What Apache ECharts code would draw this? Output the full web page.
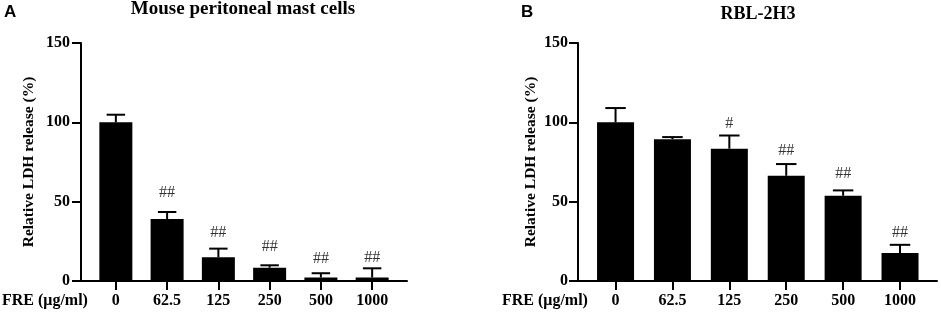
<!DOCTYPE html>
<html lang="en">

<head>
  <meta charset="UTF-8">
  <title>LDH release</title>
  <script src="https://cdn.jsdelivr.net/npm/echarts@6/dist/echarts.min.js"></script>
</head>

<body style="margin:0">
  <div id="main" style="width:941px;height:312px"></div>
  <script>
    // FRE concentrations (ug/ml)
    var doses = ['0', '62.5', '125', '250', '500', '1000']
    var yTicks = [0, 50, 100, 150]

    // A: mouse peritoneal mast cells
    var mastMean = [100, 39, 15, 8.4, 2.2, 2.2]
    var mastErr = [4.8, 4.5, 5.4, 1.5, 2.7, 5.8]
    var mastMark = ['', '##', '##', '##', '##', '##']
    var mastMarkY = [0, 55.7, 30.5, 21.5, 14, 14.8]

    // B: RBL-2H3
    var rblMean = [100, 89.4, 83.4, 66.3, 53.7, 17.6]
    var rblErr = [9, 1.3, 8.3, 7.4, 3.4, 5.2]
    var rblMark = ['', '', '#', '##', '##', '##']
    var rblMarkY = [0, 0, 99, 82.2, 67.5, 30.1]

    var serif = '"Liberation Serif", "Times New Roman", serif'
    var mCharts = echarts.init(document.getElementById('main'))

    function errorBar(params, api) {
      var x = api.value(0)
      var lo = api.coord([x, api.value(1)])
      var hi = api.coord([x, api.value(1) + api.value(2)])
      var half = api.size([1, 0])[0] * 0.18
      var st = { stroke: '#000', lineWidth: 2 }
      return {
        type: 'group',
        children: [
          { type: 'line', shape: { x1: lo[0], y1: lo[1], x2: hi[0], y2: hi[1] }, style: st },
          { type: 'line', shape: { x1: hi[0] - half, y1: hi[1], x2: hi[0] + half, y2: hi[1] }, style: st }
        ]
      }
    }

    function xAxisFor(idx, min, max) {
      return {
        type: 'value', gridIndex: idx, min: min, max: max,
        splitLine: { show: false },
        axisLine: { show: true, onZero: false, lineStyle: { color: '#000', width: 2 } },
        axisTick: { show: true, length: 9, lineStyle: { color: '#000', width: 2 }, customValues: [0, 1, 2, 3, 4, 5] },
        axisLabel: {
          customValues: [0, 1, 2, 3, 4, 5], margin: 12,
          color: '#000', fontFamily: serif, fontWeight: 'bold', fontSize: 16,
          formatter: function (v) { return doses[Math.round(v)] }
        }
      }
    }

    function yAxisFor(idx, gap, margin) {
      return {
        type: 'value', gridIndex: idx, min: 0, max: 150, interval: 50,
        name: 'Relative LDH release (%)', nameLocation: 'middle', nameGap: gap,
        nameTextStyle: { color: '#000', fontFamily: serif, fontWeight: 'bold', fontSize: 15.5 },
        splitLine: { show: false },
        axisLine: { show: true, onZero: false, lineStyle: { color: '#000', width: 2 } },
        axisTick: { show: true, length: 9, lineStyle: { color: '#000', width: 2 } },
        axisLabel: {
          margin: margin, color: '#000', fontFamily: serif, fontWeight: 'bold', fontSize: 16,
          customValues: yTicks
        }
      }
    }

    function pairs(vals, extra) {
      return vals.map(function (v, i) { return extra ? [i, v, extra[i]] : [i, v] })
    }

    function marks(texts, ys) {
      var out = []
      texts.forEach(function (t, i) {
        if (t) out.push({ name: t, value: [i, ys[i]] })
      })
      return out
    }

    function panelSeries(idx, mean, err, txt, txtY, bw) {
      return [
        { type: 'bar', xAxisIndex: idx, yAxisIndex: idx, barWidth: bw, data: pairs(mean), itemStyle: { color: '#000' } },
        { type: 'custom', xAxisIndex: idx, yAxisIndex: idx, renderItem: errorBar, data: pairs(mean, err), clip: false, z: 3 },
        {
          type: 'scatter', xAxisIndex: idx, yAxisIndex: idx, symbolSize: 1,
          itemStyle: { color: 'transparent' }, data: marks(txt, txtY),
          label: { show: true, position: 'inside', formatter: '{b}', color: '#000', fontFamily: serif, fontSize: 16 }
        }
      ]
    }

    var option = {
      animation: false,
      backgroundColor: '#fff',
      title: [
        { text: 'A', left: 4, top: 4, padding: 0, textStyle: { fontFamily: '"Liberation Sans", Arial, sans-serif', fontWeight: 'bold', fontSize: 17, color: '#000' } },
        { text: 'B', left: 521, top: 4, padding: 0, textStyle: { fontFamily: '"Liberation Sans", Arial, sans-serif', fontWeight: 'bold', fontSize: 17, color: '#000' } },
        { text: 'Mouse peritoneal mast cells', left: 243, top: 0, padding: 0, textAlign: 'center', textStyle: { fontFamily: serif, fontWeight: 'bold', fontSize: 19, color: '#000' } },
        { text: 'RBL-2H3', left: 758, top: 5, padding: 0, textAlign: 'center', textStyle: { fontFamily: serif, fontWeight: 'bold', fontSize: 18, color: '#000' } },
        { text: 'FRE (μg/ml)', left: 2, top: 293, padding: 0, textStyle: { fontFamily: serif, fontWeight: 'bold', fontSize: 16, color: '#000' } },
        { text: 'FRE (μg/ml)', left: 502, top: 293, padding: 0, textStyle: { fontFamily: serif, fontWeight: 'bold', fontSize: 16, color: '#000' } }
      ],
      grid: [
        { left: 81, right: 534, top: 43, bottom: 31 },
        { left: 578, right: 4, top: 43, bottom: 31 }
      ],
      xAxis: [xAxisFor(0, -0.68, 5.68), xAxisFor(1, -0.66, 5.65)],
      yAxis: [yAxisFor(0, 44, 11), yAxisFor(1, 39, 10)],
      series: panelSeries(0, mastMean, mastErr, mastMark, mastMarkY, 33)
        .concat(panelSeries(1, rblMean, rblErr, rblMark, rblMarkY, 37))
    }
    mCharts.setOption(option)
  </script>
</body>

</html>
